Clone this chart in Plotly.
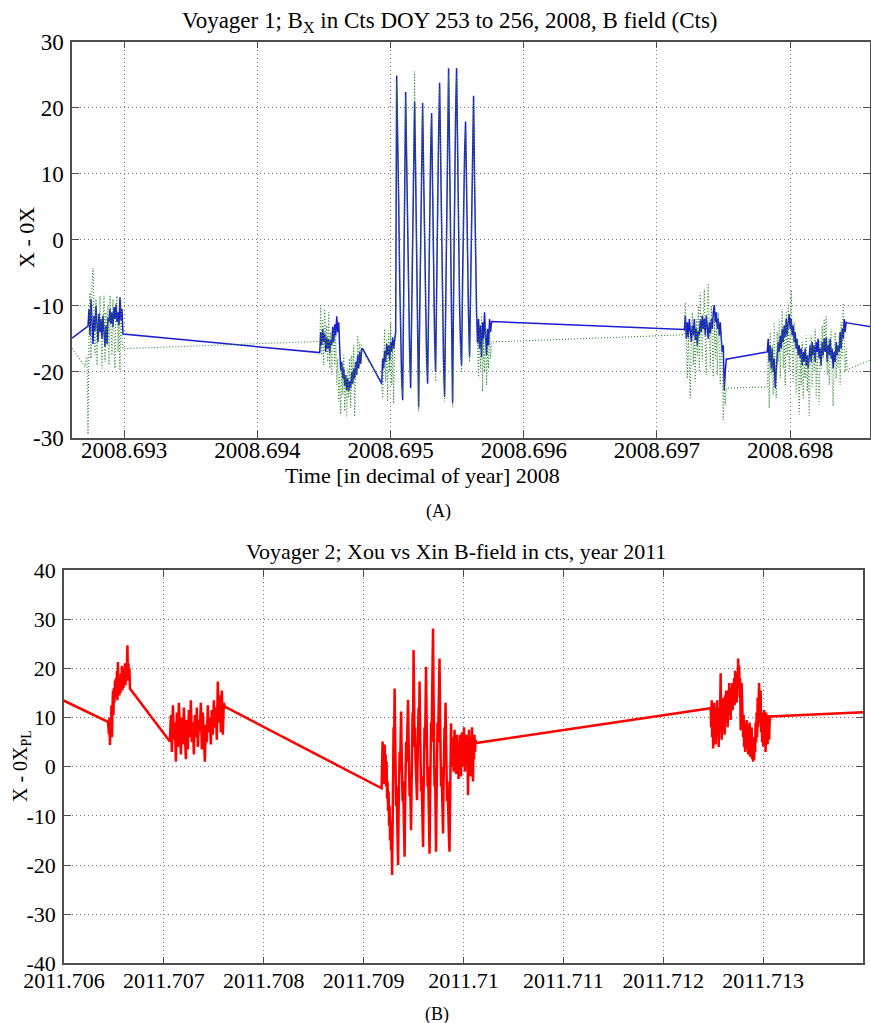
import plotly.graph_objects as go

SERIF = "Liberation Serif, Times New Roman, serif"

# ===================== Panel (A): Voyager 1, DOY 253-256, 2008 =====================
# sample times (decimal year) of each burst; both traces (Bx solid, dotted) share them
a_t_c1 = [2008.692728, 2008.6927355, 2008.692743, 2008.6927505, 2008.692758, 2008.6927655, 2008.692773, 2008.6927805, 2008.692788, 2008.6927955,
          2008.692803, 2008.6928105, 2008.692818, 2008.6928255, 2008.692833, 2008.6928405, 2008.692848, 2008.6928555, 2008.692863, 2008.6928705,
          2008.692878, 2008.6928855, 2008.692893, 2008.6929005, 2008.692908, 2008.6929155, 2008.692923, 2008.6929305, 2008.692938, 2008.6929455,
          2008.692953, 2008.6929605, 2008.692968, 2008.6929755, 2008.692983, 2008.6929905]
a_t_c2 = [2008.694468, 2008.6944755, 2008.694483, 2008.6944905, 2008.694498, 2008.6945055, 2008.694513, 2008.6945205, 2008.694528, 2008.6945355,
          2008.694543, 2008.6945505, 2008.694558, 2008.6945655, 2008.694573, 2008.6945805, 2008.694588, 2008.6945955, 2008.694603, 2008.6946105,
          2008.694618, 2008.6946255, 2008.694633, 2008.6946405, 2008.694648, 2008.6946555, 2008.694663, 2008.6946705, 2008.694678, 2008.6946855,
          2008.694693, 2008.6947005, 2008.694708, 2008.6947155, 2008.694723, 2008.6947305, 2008.694738, 2008.6947455, 2008.694753, 2008.6947605,
          2008.694768, 2008.6947755, 2008.694783, 2008.6947905]
a_t_c3 = [2008.694933, 2008.6949405, 2008.694948, 2008.6949555, 2008.694963, 2008.6949705, 2008.694978, 2008.6949855, 2008.694993, 2008.6950005,
          2008.695008, 2008.6950155, 2008.695023, 2008.6950305, 2008.695038, 2008.6950455, 2008.695053, 2008.6950605, 2008.695068, 2008.6950755,
          2008.695083, 2008.6950905, 2008.695098, 2008.6951055, 2008.695113, 2008.6951205, 2008.695128, 2008.6951355, 2008.695143, 2008.6951505,
          2008.695158, 2008.6951655, 2008.695173, 2008.6951805, 2008.695188, 2008.6951955, 2008.695203, 2008.6952105, 2008.695218, 2008.6952255,
          2008.695233, 2008.6952405, 2008.695248, 2008.6952555, 2008.695263, 2008.6952705, 2008.695278, 2008.6952855, 2008.695293, 2008.6953005,
          2008.695308, 2008.6953155, 2008.695323, 2008.6953305, 2008.695338, 2008.6953455, 2008.695353, 2008.6953605, 2008.695368, 2008.6953755,
          2008.695383, 2008.6953905, 2008.695398, 2008.6954055, 2008.695413, 2008.6954205, 2008.695428, 2008.6954355, 2008.695443, 2008.6954505,
          2008.695458, 2008.6954655, 2008.695473, 2008.6954805, 2008.695488, 2008.6954955, 2008.695503, 2008.6955105, 2008.695518, 2008.6955255,
          2008.695533, 2008.6955405, 2008.695548, 2008.6955555, 2008.695563, 2008.6955705, 2008.695578, 2008.6955855, 2008.695593, 2008.6956005,
          2008.695608, 2008.6956155, 2008.695623, 2008.6956305, 2008.695638, 2008.6956455, 2008.695653, 2008.6956605, 2008.695668, 2008.6956755,
          2008.695683, 2008.6956905, 2008.695698, 2008.6957055, 2008.695713, 2008.6957205, 2008.695728, 2008.6957355, 2008.695743, 2008.6957505,
          2008.695758]
a_t_c4 = [2008.6972055, 2008.697213, 2008.6972205, 2008.697228, 2008.6972355, 2008.697243, 2008.6972505, 2008.697258, 2008.6972655, 2008.697273,
          2008.6972805, 2008.697288, 2008.6972955, 2008.697303, 2008.6973105, 2008.697318, 2008.6973255, 2008.697333, 2008.6973405, 2008.697348,
          2008.6973555, 2008.697363, 2008.6973705, 2008.697378, 2008.6973855, 2008.697393, 2008.6974005, 2008.697408, 2008.6974155, 2008.697423,
          2008.6974305, 2008.697438, 2008.6974455, 2008.697453, 2008.6974605, 2008.697468, 2008.6974755, 2008.697483, 2008.6974905, 2008.697498,
          2008.6975055, 2008.697513, 2008.6975205]
a_t_c5 = [2008.697828, 2008.6978355, 2008.697843, 2008.6978505, 2008.697858, 2008.6978655, 2008.697873, 2008.6978805, 2008.697888, 2008.6978955,
          2008.697903, 2008.6979105, 2008.697918, 2008.6979255, 2008.697933, 2008.6979405, 2008.697948, 2008.6979555, 2008.697963, 2008.6979705,
          2008.697978, 2008.6979855, 2008.697993, 2008.6980005, 2008.698008, 2008.6980155, 2008.698023, 2008.6980305, 2008.698038, 2008.6980455,
          2008.698053, 2008.6980605, 2008.698068, 2008.6980755, 2008.698083, 2008.6980905, 2008.698098, 2008.6981055, 2008.698113, 2008.6981205,
          2008.698128, 2008.6981355, 2008.698143, 2008.6981505, 2008.698158, 2008.6981655, 2008.698173, 2008.6981805, 2008.698188, 2008.6981955,
          2008.698203, 2008.6982105, 2008.698218, 2008.6982255, 2008.698233, 2008.6982405, 2008.698248, 2008.6982555, 2008.698263, 2008.6982705,
          2008.698278, 2008.6982855, 2008.698293, 2008.6983005, 2008.698308, 2008.6983155, 2008.698323, 2008.6983305, 2008.698338, 2008.6983455,
          2008.698353, 2008.6983605, 2008.698368, 2008.6983755, 2008.698383, 2008.6983905, 2008.698398, 2008.6984055, 2008.698413, 2008.6984205,
          2008.698428]

# Bx (solid blue) values per burst
a_bx_c1 = [-13.1, -10.5, -14.5, -9.0, -13.0, -15.8, -11.5, -13.8, -10.0, -12.8,
           -15.5, -11.2, -14.0, -12.0, -15.0, -11.5, -14.8, -16.2, -13.0, -15.8,
           -11.8, -12.5, -10.5, -12.8, -11.0, -13.2, -10.2, -12.0, -9.8, -12.5,
           -11.0, -13.0, -8.7, -12.2, -10.5, -14.3]
a_bx_c2 = [-17.1, -14.0, -16.0, -13.5, -15.5, -14.2, -17.0, -14.8, -16.5, -15.0,
           -17.2, -15.2, -16.0, -13.2, -15.5, -12.8, -14.5, -11.6, -14.0, -12.5,
           -16.5, -19.8, -18.5, -21.0, -19.5, -22.2, -20.5, -22.8, -21.0, -23.0,
           -21.5, -22.5, -20.0, -21.8, -19.5, -21.0, -18.5, -20.5, -17.5, -19.5,
           -17.0, -18.8, -16.5, -16.5]
a_bx_c3 = [-21.8, -18.0, -19.5, -16.8, -18.5, -15.8, -17.5, -16.0, -18.2, -15.5,
           -17.0, -14.8, -16.5, -15.0, -14.0, 24.9, 17, 6, -6, -15,
           -21, -24.3, -10, 8, 22.4, 12, 1, -9, -17, -22.5,
           -10, 2, 13, 20.9, 10, -2, -14, -25.3, -12, 0,
           11, 20.7, 10, -2, -12, -18, -21.8, -8, 4, 13,
           19.2, 6, -6, -15, -20, -6, 6, 16, 23.8, 11,
           -1, -12, -19, -23.8, -10, 4, 16, 26.0, 13, 0,
           -13, -24.8, -8, 8, 19, 26.0, 12, -1, -10, -16,
           -19.0, -6, 5, 13, 17.9, 6, -5, -12, -17.7, -6,
           6, 15, 21.8, 9, -3, -11, -15.7, -12.0, -16.5, -13.0,
           -17.8, -12.5, -15.0, -11.0, -14.5, -17.5, -13.5, -16.0, -12.0, -14.0,
           -12.4]
a_bx_c4 = [-13.6, -11.5, -15.0, -12.5, -14.8, -12.0, -13.5, -15.5, -13.0, -14.5,
           -12.0, -15.2, -13.5, -16.0, -13.8, -14.5, -12.2, -14.0, -11.5, -13.5,
           -12.0, -14.5, -11.5, -13.0, -15.0, -12.5, -14.2, -12.0, -13.5, -11.0,
           -9.9, -12.5, -11.0, -13.5, -12.0, -14.5, -12.5, -15.0, -17.0, -16.0,
           -22.8, -20.0, -18.1]
a_bx_c5 = [-17.0, -15.0, -18.5, -16.0, -19.5, -16.5, -20.0, -18.0, -22.5, -19.0,
           -17.5, -15.5, -17.0, -14.5, -16.5, -13.5, -15.5, -13.0, -14.8, -12.0,
           -14.5, -12.5, -11.3, -13.5, -12.0, -14.5, -13.0, -15.5, -14.0, -16.5,
           -15.0, -17.5, -16.0, -18.0, -16.5, -19.0, -17.0, -18.5, -16.5, -19.0,
           -17.5, -19.5, -18.0, -16.0, -18.5, -15.5, -17.5, -16.0, -18.5, -15.5,
           -17.0, -15.0, -18.0, -16.5, -19.0, -15.5, -17.5, -15.0, -17.0, -14.8,
           -18.5, -16.0, -17.5, -15.0, -18.0, -16.5, -19.5, -17.0, -18.5, -15.5,
           -17.5, -16.0, -17.0, -14.0, -16.5, -13.5, -15.0, -12.0, -14.0, -12.5,
           -12.6]
a_bx_start_t, a_bx_start_v = [2008.692608], [-14.9]
a_bx_end_t, a_bx_end_v = [2008.698608], [-13.2]

# dotted (green) values per burst
a_dot_c1 = [-29.5, -14.0, -8.0, -18.0, -6.5, -4.3, -12.0, -17.5, -9.0, -19.0,
            -12.0, -14.5, -8.5, -17.0, -19.5, -13.0, -8.5, -18.5, -11.0, -16.0,
            -10.0, -19.0, -8.5, -13.5, -17.5, -9.0, -15.0, -19.5, -10.0, -8.5,
            -17.0, -12.5, -19.8, -9.5, -15.5, -16.5]
a_dot_c2 = [-15.4, -10.0, -17.5, -12.0, -19.0, -10.5, -16.0, -13.0, -18.5, -11.0,
            -19.5, -14.0, -20.5, -15.0, -13.5, -19.0, -14.5, -22.0, -18.0, -24.5,
            -20.0, -26.5, -19.0, -23.5, -17.5, -26.0, -20.5, -27.0, -19.5, -24.0,
            -18.0, -25.5, -17.5, -22.0, -16.0, -26.8, -18.5, -20.5, -14.5, -19.0,
            -15.5, -18.0, -16.0, -17.0]
a_dot_c3 = [-21.5, -24.0, -16.5, -13.5, -21.5, -15.0, -24.5, -14.0, -20.0, -12.5,
            -22.0, -16.0, -24.8, -14.5, -15.0, 24.0, 16, 5, -7, -16,
            -22, -23.5, -11, 9, 21.5, 13, 2, -10, -18, -21.5,
            -11, 3, 14, 25.5, 11, -3, -15, -26.0, -13, 1,
            12, 20.0, 9, -3, -13, -19, -21.0, -9, 5, 14,
            18.5, 5, -7, -16, -21.5, -7, 7, 15, 23.0, 10,
            -2, -13, -20, -24.5, -11, 5, 15, 25.0, 12, -1,
            -14, -25.5, -9, 9, 18, 25.0, 13, 0, -11, -17,
            -20.0, -7, 4, 12, 17.0, 5, -6, -13, -18.5, -7,
            5, 14, 21.0, 8, -4, -12, -16, -21.0, -13.0, -19.5,
            -11.5, -23.0, -15.0, -20.0, -12.5, -22.0, -16.0, -19.5, -13.5, -18.0,
            -15.5]
a_dot_c4 = [-14.4, -9.5, -16.0, -21.0, -14.0, -18.5, -24.0, -15.0, -11.0, -19.0,
            -13.5, -21.5, -12.0, -17.5, -10.0, -20.0, -8.0, -15.0, -18.5, -11.5,
            -7.5, -16.0, -20.5, -9.0, -6.6, -14.0, -19.5, -10.0, -16.5, -21.0,
            -12.0, -18.0, -13.5, -20.5, -11.0, -17.0, -22.0, -14.5, -19.0, -27.3,
            -21.0, -25.0, -22.5]
a_dot_c5 = [-22.3, -17.0, -25.5, -14.0, -20.5, -16.0, -23.5, -12.5, -19.0, -24.0,
            -14.0, -18.5, -12.0, -21.0, -15.0, -10.5, -19.5, -13.0, -22.0, -11.0,
            -17.5, -9.5, -20.0, -13.0, -7.6, -16.0, -21.5, -12.5, -18.0, -23.5,
            -15.0, -20.0, -26.5, -17.0, -22.0, -15.5, -24.0, -18.0, -21.0, -14.5,
            -23.0, -17.5, -26.7, -19.0, -14.5, -22.5, -16.0, -20.0, -13.5, -24.0,
            -17.0, -21.5, -25.0, -15.0, -19.5, -13.0, -18.0, -12.0, -16.5, -11.6,
            -20.5, -15.0, -22.0, -17.0, -13.5, -21.0, -25.2, -18.5, -14.0, -21.0,
            -16.0, -19.5, -14.5, -22.0, -12.5, -18.0, -9.6, -15.0, -20.0, -16.5,
            -19.7]
a_dot_start_t = [2008.692608, 2008.6927055, 2008.6927205]
a_dot_start_v = [-16.5, -19.2, -17.5]
a_dot_end_t, a_dot_end_v = [2008.698608], [-18.2]

a_xticks = [2008.693, 2008.694, 2008.695, 2008.696, 2008.697, 2008.698]
a_xticklabels = ["2008.693", "2008.694", "2008.695", "2008.696", "2008.697", "2008.698"]
a_yticks = [-30, -20, -10, 0, 10, 20, 30]
a_yticklabels = ["-30", "-20", "-10", "0", "10", "20", "30"]

# ===================== Panel (B): Voyager 2, 2011 =====================
b_t_lead = [2011.70598, 2011.70644]
b_v_lead = [13.6, 9.1]
b_t_c1 = [2011.706445, 2011.70645, 2011.706455, 2011.70646, 2011.706465, 2011.70647, 2011.706475, 2011.70648, 2011.706485, 2011.70649,
          2011.706495, 2011.7065, 2011.706505, 2011.70651, 2011.706515, 2011.70652, 2011.706525, 2011.70653, 2011.706535, 2011.70654,
          2011.706545, 2011.70655, 2011.706555, 2011.70656, 2011.706565, 2011.70657, 2011.706575, 2011.70658, 2011.706585, 2011.70659,
          2011.706595, 2011.7066, 2011.706605, 2011.70661, 2011.706615, 2011.70662, 2011.706625, 2011.70663, 2011.706635, 2011.70664,
          2011.706645, 2011.70665, 2011.706655, 2011.70666]
b_v_c1 = [8.0, 6.5, 10.0, 4.4, 9.5, 8.0, 12.5, 6.0, 11.0, 15.5,
          10.5, 16.0, 13.0, 17.5, 14.0, 18.0, 15.0, 19.5, 13.5, 21.3,
          16.0, 18.5, 14.5, 17.0, 15.0, 19.0, 16.5, 20.5, 15.5, 18.5,
          16.0, 20.0, 17.0, 21.0, 16.5, 19.5, 17.5, 20.5, 24.7, 17.5,
          21.0, 18.0, 20.0, 15.9]
b_t_c2 = [2011.70706, 2011.70707, 2011.70708, 2011.70709, 2011.7071, 2011.70711, 2011.70712, 2011.70713, 2011.70714, 2011.70715,
          2011.70716, 2011.70717, 2011.70718, 2011.70719, 2011.7072, 2011.70721, 2011.70722, 2011.70723, 2011.70724, 2011.70725,
          2011.70726, 2011.70727, 2011.70728, 2011.70729, 2011.7073, 2011.70731, 2011.70732, 2011.70733, 2011.70734, 2011.70735,
          2011.70736, 2011.70737, 2011.70738, 2011.70739, 2011.7074, 2011.70741, 2011.70742, 2011.70743, 2011.70744, 2011.70745,
          2011.70746, 2011.70747, 2011.70748, 2011.70749, 2011.7075, 2011.70751, 2011.70752, 2011.70753, 2011.70754, 2011.70755,
          2011.70756, 2011.70757, 2011.70758, 2011.70759, 2011.7076, 2011.70761]
b_v_c2 = [5.1, 10.5, 3.0, 12.5, 5.5, 9.0, 1.0, 11.0, 4.0, 13.0,
          6.5, 2.5, 10.0, 4.5, 12.0, 7.0, 1.5, 9.5, 3.5, 11.5,
          6.0, 13.5, 5.0, 9.0, 2.5, 10.5, 6.0, 12.0, 4.0, 9.5,
          7.0, 13.0, 3.5, 11.0, 6.0, 1.0, 8.5, 5.0, 12.5, 7.0,
          10.0, 4.5, 11.5, 6.5, 13.5, 8.0, 12.0, 5.5, 17.3, 9.0,
          14.5, 7.0, 15.5, 6.5, 13.0, 12.2]
b_t_c3 = [2011.70918, 2011.709185, 2011.70919, 2011.709195, 2011.7092, 2011.709205, 2011.70921, 2011.709215, 2011.70922, 2011.709225,
          2011.70923, 2011.709235, 2011.70924, 2011.709245, 2011.70925, 2011.709255, 2011.70926, 2011.709265, 2011.70927, 2011.709275,
          2011.70928, 2011.709285, 2011.70929, 2011.709295, 2011.7093, 2011.709305, 2011.70931, 2011.709315, 2011.70932, 2011.709325,
          2011.70933, 2011.709335, 2011.70934, 2011.709345, 2011.70935, 2011.709355, 2011.70936, 2011.709365, 2011.70937, 2011.709375,
          2011.70938, 2011.709385, 2011.70939, 2011.709395, 2011.7094, 2011.709405, 2011.70941, 2011.709415, 2011.70942, 2011.709425,
          2011.70943, 2011.709435, 2011.70944, 2011.709445, 2011.70945, 2011.709455, 2011.70946, 2011.709465, 2011.70947, 2011.709475,
          2011.70948, 2011.709485, 2011.70949, 2011.709495, 2011.7095, 2011.709505, 2011.70951, 2011.709515, 2011.70952, 2011.709525,
          2011.70953, 2011.709535, 2011.70954, 2011.709545, 2011.70955, 2011.709555, 2011.70956, 2011.709565, 2011.70957, 2011.709575,
          2011.70958, 2011.709585, 2011.70959, 2011.709595, 2011.7096, 2011.709605, 2011.70961, 2011.709615, 2011.70962, 2011.709625,
          2011.70963, 2011.709635, 2011.70964, 2011.709645, 2011.70965, 2011.709655, 2011.70966, 2011.709665, 2011.70967, 2011.709675,
          2011.70968, 2011.709685, 2011.70969, 2011.709695, 2011.7097, 2011.709705, 2011.70971, 2011.709715, 2011.70972, 2011.709725,
          2011.70973, 2011.709735, 2011.70974, 2011.709745, 2011.70975, 2011.709755, 2011.70976, 2011.709765, 2011.70977, 2011.709775,
          2011.70978, 2011.709785, 2011.70979, 2011.709795, 2011.7098, 2011.709805, 2011.70981, 2011.709815, 2011.70982, 2011.709825,
          2011.70983, 2011.709835, 2011.70984, 2011.709845, 2011.70985, 2011.709855, 2011.70986, 2011.709865, 2011.70987, 2011.709875,
          2011.70988, 2011.709885, 2011.70989, 2011.709895, 2011.7099, 2011.709905, 2011.70991, 2011.709915, 2011.70992, 2011.709925,
          2011.70993, 2011.709935, 2011.70994, 2011.709945, 2011.70995, 2011.709955, 2011.70996, 2011.709965, 2011.70997, 2011.709975,
          2011.70998, 2011.709985, 2011.70999, 2011.709995, 2011.71, 2011.710005, 2011.71001, 2011.710015, 2011.71002, 2011.710025,
          2011.71003, 2011.710035, 2011.71004, 2011.710045, 2011.71005, 2011.710055, 2011.71006, 2011.710065, 2011.71007, 2011.710075,
          2011.71008, 2011.710085, 2011.71009, 2011.710095, 2011.7101, 2011.710105, 2011.71011, 2011.710115, 2011.71012, 2011.710125]
b_v_c3 = [-4.4, 0.5, 5.1, -1.0, 3.0, -3.5, 4.5, 0.0, 2.5, -4.0,
          1.0, -6.5, -3.0, -9.0, -5.0, -12.0, -8.0, -15.0, -11.0, -17.0,
          -14.0, -22.0, -8.0, 2.0, 8.0, 3.0, 15.9, 8.0, -2.0, -8.0,
          -4.0, -12.0, -15.0, -20.0, -9.0, -2.0, 3.0, -1.0, 6.0, 11.2,
          4.0, -3.0, -7.0, -3.0, -11.0, -14.0, -18.3, -8.0, 0.0, 5.0,
          1.0, 7.0, 10.0, 13.6, 6.0, -2.0, -6.0, -2.0, -8.0, -12.9,
          -4.0, 5.0, 11.0, 7.0, 23.7, 14.0, 4.0, 8.0, 1.0, -3.0,
          -1.0, -6.8, 1.0, 8.0, 12.0, 7.0, 17.3, 9.0, 1.0, -5.0,
          -2.0, -9.0, -12.0, -16.3, -6.0, 3.0, 8.0, 4.0, 12.0, 20.3,
          11.0, 2.0, -4.0, 0.0, -9.0, -13.0, -17.7, -7.0, 3.0, 9.0,
          5.0, 14.0, 20.0, 28.1, 15.0, 4.0, -4.0, 0.0, -9.0, -17.3,
          -7.0, 2.0, 9.0, 5.0, 13.0, 17.0, 22.0, 11.0, 2.0, -4.0,
          0.0, -8.0, -11.0, -13.6, -4.0, 4.0, 8.0, 5.0, 13.0, 6.0,
          -2.0, -7.0, -3.0, -10.0, -13.0, -15.0, -17.3, -6.0, 3.0, 8.8,
          2.0, 6.0, 0.0, 5.0, -1.0, 4.0, 7.5, 1.0, 5.5, -1.5,
          3.5, 6.5, 0.5, 4.5, -2.5, 5.0, 1.0, 6.5, 2.0, -2.0,
          4.0, 7.0, 0.0, 5.0, 1.5, 8.0, 2.5, -1.0, 5.5, 2.0,
          6.5, 0.5, 4.5, -5.8, 3.0, 7.5, 1.5, 5.0, -2.0, 6.0,
          2.0, 8.0, 3.0, -3.0, 5.0, 1.5, 6.5, 3.0, 5.5, 4.8]
b_t_c4 = [2011.712475, 2011.71248, 2011.712485, 2011.71249, 2011.712495, 2011.7125, 2011.712505, 2011.71251, 2011.712515, 2011.71252,
          2011.712525, 2011.71253, 2011.712535, 2011.71254, 2011.712545, 2011.71255, 2011.712555, 2011.71256, 2011.712565, 2011.71257,
          2011.712575, 2011.71258, 2011.712585, 2011.71259, 2011.712595, 2011.7126, 2011.712605, 2011.71261, 2011.712615, 2011.71262,
          2011.712625, 2011.71263, 2011.712635, 2011.71264, 2011.712645, 2011.71265, 2011.712655, 2011.71266, 2011.712665, 2011.71267,
          2011.712675, 2011.71268, 2011.712685, 2011.71269, 2011.712695, 2011.7127, 2011.712705, 2011.71271, 2011.712715, 2011.71272,
          2011.712725, 2011.71273, 2011.712735, 2011.71274, 2011.712745, 2011.71275, 2011.712755, 2011.71276, 2011.712765, 2011.71277,
          2011.712775, 2011.71278, 2011.712785, 2011.71279, 2011.712795, 2011.7128, 2011.712805, 2011.71281, 2011.712815, 2011.71282,
          2011.712825, 2011.71283, 2011.712835, 2011.71284, 2011.712845, 2011.71285, 2011.712855, 2011.71286, 2011.712865, 2011.71287,
          2011.712875, 2011.71288, 2011.712885, 2011.71289, 2011.712895, 2011.7129, 2011.712905, 2011.71291, 2011.712915, 2011.71292,
          2011.712925, 2011.71293, 2011.712935, 2011.71294, 2011.712945, 2011.71295, 2011.712955, 2011.71296, 2011.712965, 2011.71297,
          2011.712975, 2011.71298, 2011.712985, 2011.71299, 2011.712995, 2011.713, 2011.713005, 2011.71301, 2011.713015, 2011.71302,
          2011.713025, 2011.71303, 2011.713035, 2011.71304, 2011.713045, 2011.71305, 2011.713055, 2011.71306, 2011.713065, 2011.71307]
b_v_c4 = [11.9, 8.0, 13.5, 6.0, 11.0, 3.7, 9.0, 13.0, 5.5, 10.0,
          4.5, 12.0, 7.0, 13.5, 6.0, 10.5, 4.0, 12.0, 8.0, 12.5,
          19.0, 9.0, 5.5, 11.5, 7.0, 14.0, 8.5, 12.0, 6.5, 14.5,
          9.0, 15.5, 10.0, 13.0, 8.0, 15.5, 11.0, 17.0, 10.5, 14.5,
          9.5, 16.0, 12.0, 17.0, 11.5, 15.5, 13.0, 18.0, 12.5, 19.5,
          14.0, 17.5, 13.0, 19.0, 16.5, 22.0, 16.0, 20.5, 14.0, 18.0,
          7.4, 12.0, 17.0, 10.0, 13.5, 6.0, 10.5, 4.0, 9.0, 3.0,
          8.0, 5.0, 9.5, 3.5, 8.5, 2.5, 7.0, 4.5, 9.0, 2.0,
          6.5, 3.0, 8.0, 1.5, 5.5, 1.0, 6.0, 1.4, 6.0, 3.0,
          9.0, 5.0, 11.0, 6.0, 14.0, 8.0, 13.0, 17.0, 9.0, 12.5,
          15.5, 7.0, 11.0, 5.0, 9.5, 4.1, 8.0, 11.5, 5.0, 9.0,
          3.0, 11.0, 6.0, 9.0, 4.5, 10.5, 7.0, 5.5, 9.0, 10.2]
b_t_end, b_v_end = [2011.71401], [11.1]

b_xticks = [2011.706, 2011.707, 2011.708, 2011.709, 2011.710, 2011.711, 2011.712, 2011.713]
b_xticklabels = ["2011.706", "2011.707", "2011.708", "2011.709", "2011.71", "2011.711", "2011.712", "2011.713"]
b_yticks = [-40, -30, -20, -10, 0, 10, 20, 30, 40]
b_yticklabels = ["-40", "-30", "-20", "-10", "0", "10", "20", "30", "40"]

# ---------------- assemble series ----------------
a_bx_t = a_bx_start_t + a_t_c1 + a_t_c2 + a_t_c3 + a_t_c4 + a_t_c5 + a_bx_end_t
a_bx_v = a_bx_start_v + a_bx_c1 + a_bx_c2 + a_bx_c3 + a_bx_c4 + a_bx_c5 + a_bx_end_v
a_dot_t = a_dot_start_t + a_t_c1 + a_t_c2 + a_t_c3 + a_t_c4 + a_t_c5 + a_dot_end_t
a_dot_v = a_dot_start_v + a_dot_c1 + a_dot_c2 + a_dot_c3 + a_dot_c4 + a_dot_c5 + a_dot_end_v
b_t = b_t_lead + b_t_c1 + b_t_c2 + b_t_c3 + b_t_c4 + b_t_end
b_v = b_v_lead + b_v_c1 + b_v_c2 + b_v_c3 + b_v_c4 + b_v_end

fig = go.Figure()
fig.add_trace(go.Scatter(x=a_bx_t, y=a_bx_v, mode="lines", xaxis="x", yaxis="y",
                         line=dict(color="#1c1cd0", width=1.5), hoverinfo="skip"))
fig.add_trace(go.Scatter(x=a_dot_t, y=a_dot_v, mode="lines", xaxis="x", yaxis="y",
                         line=dict(color="#2f8a2f", width=1.1, dash="1px,2px"), hoverinfo="skip"))
fig.add_trace(go.Scatter(x=b_t, y=b_v, mode="lines", xaxis="x2", yaxis="y2",
                         line=dict(color="#ff0000", width=2.5), hoverinfo="skip"))

ax_style = dict(showline=True, linecolor="#4d4d4d", linewidth=1.5, mirror="ticks",
                ticks="inside", ticklen=7, tickwidth=1.2, tickcolor="#4d4d4d",
                showgrid=True, gridcolor="#777777", gridwidth=1, griddash="1px,3px",
                zeroline=False, automargin=False)

fig.update_layout(
    template="none",
    width=871, height=1023, margin=dict(l=0, r=0, t=0, b=0, autoexpand=False),
    paper_bgcolor="white", plot_bgcolor="white", showlegend=False,
    xaxis=dict(ax_style, domain=[0.0827, 0.9989], range=[2008.692608, 2008.6986], anchor="y",
               tickvals=a_xticks, ticktext=a_xticklabels, ticklabelstandoff=-9,
               tickfont=dict(family=SERIF, size=23, color="black")),
    yaxis=dict(ax_style, domain=[0.5721, 0.9592], range=[-30, 30], anchor="x",
               tickvals=a_yticks, ticktext=a_yticklabels, ticklabelstandoff=2,
               tickfont=dict(family=SERIF, size=23, color="black")),
    xaxis2=dict(ax_style, domain=[0.0735, 0.9908], range=[2011.706, 2011.714], anchor="y2",
                tickvals=b_xticks, ticktext=b_xticklabels, ticklabelstandoff=-4,
                tickfont=dict(family=SERIF, size=22, color="black")),
    yaxis2=dict(ax_style, domain=[0.0582, 0.4429], range=[-40, 40], anchor="x2",
                tickvals=b_yticks, ticktext=b_yticklabels, ticklabelstandoff=2,
                tickfont=dict(family=SERIF, size=22, color="black")),
)

def note(text, x, y, size, angle=0):
    fig.add_annotation(text=text, x=x, y=y, xref="paper", yref="paper",
                       xanchor="center", yanchor="middle", showarrow=False, textangle=angle,
                       font=dict(family=SERIF, size=size, color="black"))

note("Voyager 1; B<sub>X</sub> in Cts DOY 253 to 256, 2008, B field (Cts)", 450 / 871, 1 - 22 / 1023, 23)
note("X - 0X", 26 / 871, 1 - 238 / 1023, 22, -90)
note("Time [in decimal of year] 2008", 422 / 871, 1 - 475 / 1023, 22)
note("(A)", 438 / 871, 1 - 511 / 1023, 18)
note("Voyager 2; Xou vs Xin B-field in cts, year 2011", 456 / 871, 1 - 551 / 1023, 22)
note("X - 0X<sub>PL</sub>", 21 / 871, 1 - 766 / 1023, 20, -90)
note("(B)", 437 / 871, 1 - 1014 / 1023, 18)

fig.write_html("out.html")
